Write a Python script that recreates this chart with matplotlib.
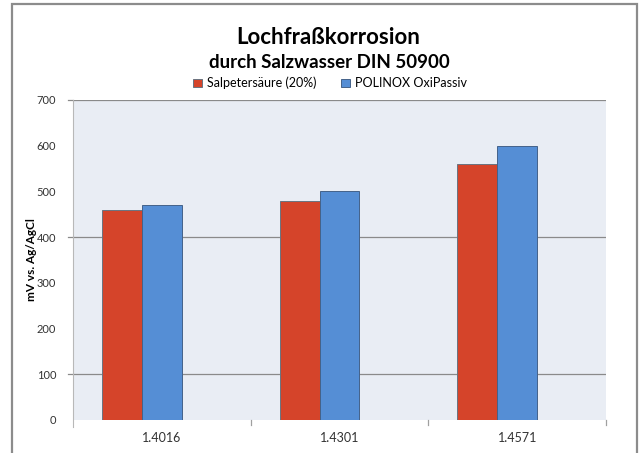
import matplotlib.pyplot as plt
import numpy as np
from matplotlib.patches import Rectangle

categories = ['1.4016', '1.4301', '1.4571']
salpeter = [460, 480, 560]
polinox = [470, 500, 600]
series_names = ['Salpetersäure (20%)', 'POLINOX OxiPassiv']

plt.rcParams['font.family'] = ['Lato', 'DejaVu Sans']

W, H = 642, 453
fig = plt.figure(figsize=(W / 100, H / 100), dpi=100)
fig.patch.set_facecolor('white')

# outer chart frame (bottom edge is cut off in the reference)
fig.patches.append(Rectangle((12 / W, -0.05), (637 - 12) / W, 1.05 - 4 / H,
                             transform=fig.transFigure, fill=False,
                             edgecolor='#8c8c8c', linewidth=1.6))

ax = fig.add_axes([73 / W, 1 - 420 / H, (606 - 73) / W, (420 - 100) / H])
ax.set_facecolor('#e9edf4')

x = np.arange(len(categories))
bw = 0.224
red = '#d5442a'
blue = '#558ed5'
ax.bar(x - bw, salpeter, bw, color=red, edgecolor='#6a7380', linewidth=0.7,
       label=series_names[0], zorder=3)
ax.bar(x, polinox, bw, color=blue, edgecolor='#44628a', linewidth=0.7,
       label=series_names[1], zorder=3)

ax.set_xlim(-0.5, len(categories) - 0.5)
ax.set_ylim(0, 700)
ax.set_yticks(range(0, 701, 100))
ax.tick_params(axis='y', labelsize=8, colors='#333333', length=0, pad=12)
for y in [100, 400, 700]:
    ax.axhline(y, color='#8a8a8a', linewidth=0.9, zorder=1)
    ax.plot([-0.5 - 0.03, -0.5], [y, y], color='#8a8a8a', linewidth=0.9,
            clip_on=False)

ax.set_xticks(x)
ax.set_xticklabels(categories)
ax.tick_params(axis='x', labelsize=9, colors='#333333', length=0, pad=9)
for sep in [0.5, 1.5, 2.5]:
    ax.plot([sep, sep], [0, -12], color='#a0a0a0', linewidth=0.9, clip_on=False)

for s in ['top', 'right', 'bottom']:
    ax.spines[s].set_visible(False)
ax.spines['left'].set_color('#b8b8b8')
ax.spines['left'].set_bounds(-15, 700)

ax.set_ylabel('mV vs. Ag/AgCl', fontsize=8.5, fontweight='bold')
ax.yaxis.set_label_coords(-0.068, 0.5)

fig.text(328 / W, 1 - 38 / H, 'Lochfraßkorrosion', ha='center', va='center',
         fontsize=16, fontweight='bold')
fig.text(329 / W, 1 - 62 / H, 'durch Salzwasser DIN 50900', ha='center',
         va='center', fontsize=13.5, fontweight='bold')

fig.legend(loc='center', bbox_to_anchor=(330 / W, 1 - 83 / H), ncol=2,
           frameon=False, fontsize=9, handlelength=0.7, handleheight=0.7,
           handletextpad=0.4, columnspacing=2.0)

fig.savefig('out.png', dpi=100)
